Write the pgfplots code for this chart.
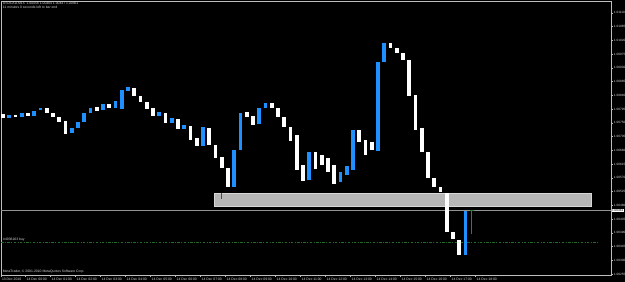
\documentclass[border=0pt]{standalone}
\usepackage{pgfplots}
\pgfplotsset{compat=1.18}
\usepackage{pgfplotstable}
\usepackage{fontspec}
\setmainfont{Liberation Sans}
\newcommand\mtf{\fontsize{3.4}{4}\selectfont}
\newcommand\mty{\fontsize{3.15}{4}\selectfont}
\definecolor{mtblue}{RGB}{30,144,255}
\definecolor{txtgray}{RGB}{215,215,215}
\definecolor{axgray}{RGB}{190,190,190}
\definecolor{rectfill}{RGB}{182,182,182}
\definecolor{rectedge}{RGB}{215,215,215}
\definecolor{ordgreen}{RGB}{35,105,40}
\definecolor{dojigreen}{RGB}{40,135,45}

% bearish (white) candles: bar index, open, close
\pgfplotstableread{
i o c
0 1.00779 1.00766
2 1.00776 1.00769
4 1.00783 1.00773
7 1.00799 1.00783
8 1.00783 1.00769
9 1.00769 1.00753
10 1.00756 1.00714
15 1.00802 1.00789
17 1.00812 1.00799
21 1.00864 1.00838
22 1.00838 1.00819
23 1.00819 1.00796
24 1.00799 1.00773
26 1.00783 1.00750
28 1.00763 1.00730
30 1.00740 1.00697
31 1.00701 1.00674
33 1.00733 1.00678
34 1.00678 1.00635
35 1.00638 1.00602
36 1.00602 1.00540
39 1.00786 1.00769
40 1.00773 1.00746
43 1.00815 1.00799
44 1.00799 1.00769
45 1.00769 1.00737
46 1.00737 1.00691
47 1.00710 1.00596
48 1.00612 1.00560
50 1.00655 1.00602
51 1.00645 1.00612
52 1.00635 1.00589
53 1.00612 1.00553
57 1.00727 1.00688
58 1.00694 1.00645
59 1.00688 1.00661
62 1.01012 1.00995
63 1.00995 1.00979
64 1.00979 1.00956
65 1.00956 1.00841
66 1.00841 1.00727
67 1.00733 1.00655
68 1.00655 1.00570
69 1.00570 1.00540
70 1.00540 1.00524
71 1.00521 1.00393
72 1.00393 1.00370
73 1.00367 1.00317
}\bear

% bullish (blue) candles: bar index, open, close
\pgfplotstableread{
i o c
1 1.00766 1.00776
3 1.00769 1.00783
5 1.00773 1.00792
6 1.00792 1.00799
11 1.00717 1.00733
12 1.00733 1.00753
13 1.00753 1.00783
14 1.00783 1.00799
16 1.00792 1.00812
18 1.00799 1.00822
19 1.00796 1.00858
20 1.00855 1.00868
25 1.00773 1.00786
27 1.00750 1.00766
29 1.00730 1.00743
32 1.00674 1.00737
37 1.00540 1.00661
38 1.00661 1.00783
41 1.00746 1.00799
42 1.00799 1.00815
49 1.00563 1.00655
54 1.00557 1.00589
55 1.00579 1.00609
56 1.00596 1.00727
60 1.00661 1.00950
61 1.00950 1.01012
74 1.00317 1.00462
}\bull

\begin{document}
\begin{tikzpicture}
\useasboundingbox (0,0) rectangle (625bp,282bp);
\fill[black] (0,0) rectangle (625bp,282bp);
\begin{axis}[
  at={(1bp,7bp)}, anchor=south west,
  scale only axis, width=610bp, height=274bp,
  xmin=-0.304, xmax=97.296, ymin=1.00252, ymax=1.01149,
  axis line style={draw=axgray, line width=0.6bp},
  ytick={1.00255,1.00300,1.00345,1.00390,1.00435,1.00480,1.00525,1.00570,1.00615,1.00660,1.00705,1.00750,1.00795,1.00840,1.00885,1.00930,1.00975,1.01020,1.01065,1.01110},
  yticklabels={1.00255,1.00300,1.00345,1.00390,1.00435,1.00480,1.00525,1.00570,1.00615,1.00660,1.00705,1.00750,1.00795,1.00840,1.00885,1.00930,1.00975,1.01020,1.01065,1.01110},
  yticklabel pos=right, ytick pos=right,
  xtick={-0.3,3.65,7.65,11.65,15.65,19.65,23.65,27.65,31.65,35.65,39.65,43.65,47.65,51.65,55.65,59.65,63.65,67.65,71.65,75.65},
  xticklabels={13 Dec 2010,14 Dec 00:00,14 Dec 01:00,14 Dec 02:00,14 Dec 03:00,14 Dec 04:00,14 Dec 05:00,14 Dec 06:00,14 Dec 07:00,14 Dec 08:00,14 Dec 09:00,14 Dec 10:00,14 Dec 11:00,14 Dec 12:00,14 Dec 13:00,14 Dec 14:00,14 Dec 15:00,14 Dec 16:00,14 Dec 17:00,14 Dec 18:00},
  xtick pos=left,
  tick align=outside, major tick length=1.5bp,
  tick style={draw=axgray, line width=0.5bp},
  yticklabel style={anchor=west, inner sep=0pt, xshift=1.2bp, font=\mty, text=txtgray},
  xticklabel style={anchor=north west, inner sep=0pt, xshift=0.8bp, yshift=-1.3bp, font=\mtf, text=txtgray},
  scaled y ticks=false,
]
% rectangle object
\addplot[fill=rectfill, draw=rectedge, line width=0.6bp] coordinates {(33.83,1.00478) (94.1,1.00478) (94.1,1.00521) (33.83,1.00521)} --cycle;
% dark wick mark inside rectangle
\addplot[draw=black!70, line width=0.7bp] coordinates {(35,1.00521) (35,1.00502)};
% bid line
\addplot[draw=gray!85!white, line width=0.8bp] coordinates {(-0.304,1.00464) (97.296,1.00464)};
% order line
\addplot[draw=ordgreen, line width=0.8bp, dash pattern=on 2.5bp off 1.5bp on 0.8bp off 1.5bp] coordinates {(-0.304,1.00360) (95.3,1.00360)};
% candle bodies
\addplot[draw=none, mark=none, error bars/.cd, y dir=both, y explicit, error mark=none,
  error bar style={draw=white, line width=3.7bp}]
  table[x=i, y expr=(\thisrow{o}+\thisrow{c})/2, y error expr=abs(\thisrow{o}-\thisrow{c})/2] {\bear};
\addplot[draw=none, mark=none, error bars/.cd, y dir=both, y explicit, error mark=none,
  error bar style={draw=mtblue, line width=3.7bp}]
  table[x=i, y expr=(\thisrow{o}+\thisrow{c})/2, y error expr=abs(\thisrow{o}-\thisrow{c})/2] {\bull};
% current (doji) bar
\addplot[draw=dojigreen, line width=0.8bp] coordinates {(75,1.00464) (75,1.00385)};
\addplot[draw=dojigreen, line width=1bp] coordinates {(74.7,1.00464) (75.3,1.00464)};
\end{axis}
\node[anchor=west, inner sep=0pt, text=txtgray, font=\mtf] at (2.7bp,278.2bp) {USDCAD,M15\ \ 1.00458 1.00464 1.00447 1.00461};
\node[anchor=west, inner sep=0pt, text=txtgray, font=\mtf] at (2.7bp,274.3bp) {11 minutes 0 seconds left to bar end};
\node[anchor=west, inner sep=0pt, text=txtgray, font=\mtf] at (2.7bp,10.6bp) {MetaTrader, © 2001-2010 MetaQuotes Software Corp.};
\node[anchor=west, inner sep=0pt, text=txtgray, font=\mtf] at (3bp,42.5bp) {\#4936163 buy};
\node[anchor=west, inner sep=0.5bp, fill=white, text=black, font=\mty] at (611.3bp,71.7bp) {1.00461};
\end{tikzpicture}
\end{document}
